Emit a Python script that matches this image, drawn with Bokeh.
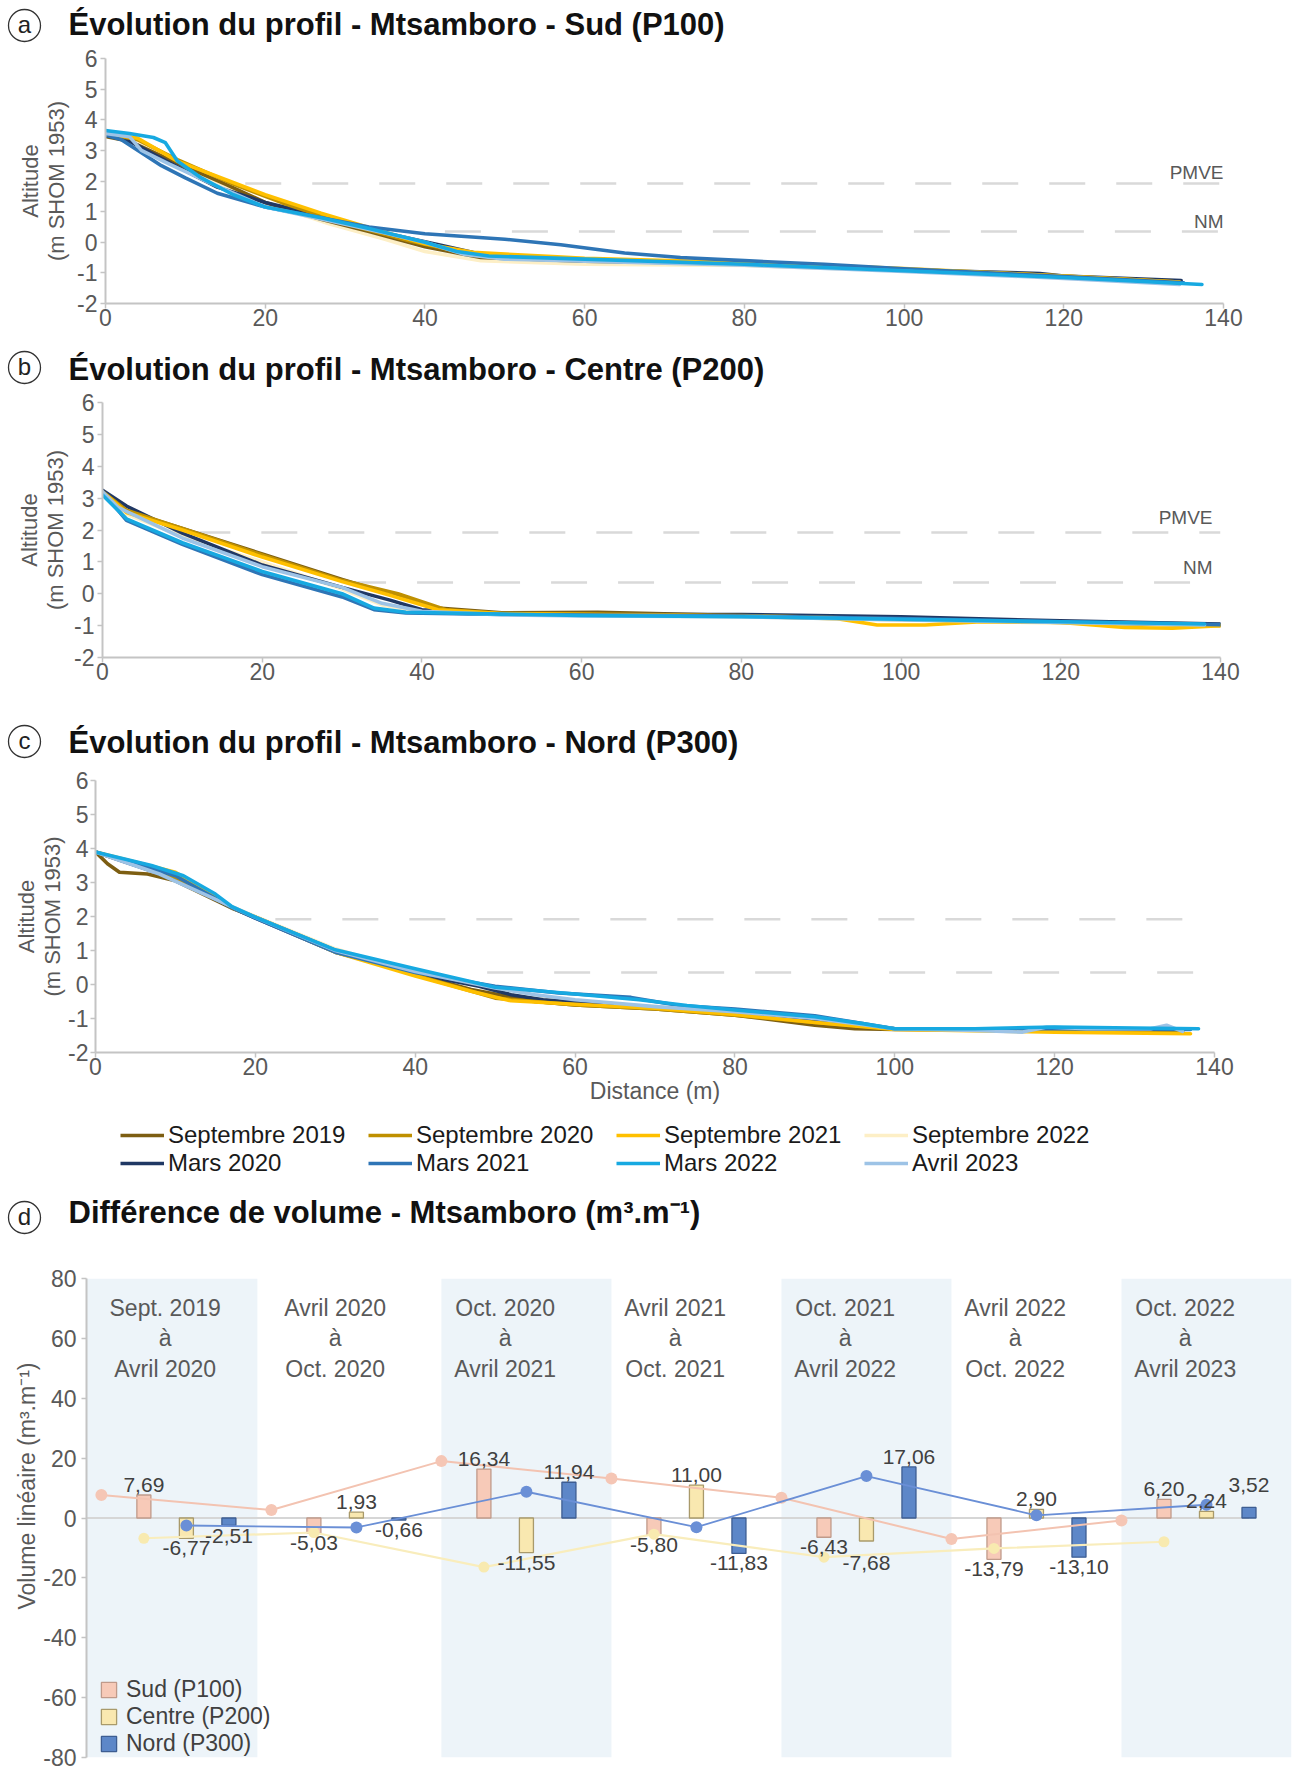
import numpy as np
from bokeh.plotting import figure
from bokeh.models import Range1d, FixedTicker, Legend, LegendItem, PrintfTickFormatter, Plot
from bokeh.layouts import column
from bokeh.embed import file_html
from bokeh.resources import INLINE
from bokeh.core.properties import value

FONT = "Liberation Sans"
GRAY = "#595959"
AXIS = "#c4c4c4"
W = 1308

# ------------------------------------------------------------------ data
date_labels = ["Septembre 2019", "Septembre 2020", "Septembre 2021", "Septembre 2022",
               "Mars 2020", "Mars 2021", "Mars 2022", "Avril 2023"]
date_colors = ["#7d5e12", "#bf9000", "#ffc000", "#fdefc6",
               "#203864", "#2e75b6", "#17a9e1", "#9dc3e6"]

# Panel a - Sud (P100): [distance (m), altitude (m SHOM 1953)]
sud_sep2019 = [[0, 3.45], [3, 3.3], [8, 2.7], [15, 1.9], [20, 1.3], [27, 0.75], [33, 0.35], [40, -0.15],
               [47, -0.5], [60, -0.62], [80, -0.7], [100, -0.9], [120, -1.12], [134.5, -1.3]]
sud_sep2020 = [[0, 3.55], [4, 3.35], [9, 2.7], [16, 1.9], [22, 1.3], [30, 0.6], [38, 0.05], [45, -0.35],
               [50, -0.5], [60, -0.58], [80, -0.68], [100, -0.88], [120, -1.1], [134.5, -1.3]]
sud_sep2021 = [[0, 3.55], [4, 3.4], [9, 2.65], [15, 2.05], [20, 1.55], [27, 0.95], [34, 0.4], [40, -0.05],
               [46, -0.33], [60, -0.52], [80, -0.66], [100, -0.86], [120, -1.1], [134.5, -1.3]]
sud_sep2022 = [[0, 3.5], [4, 3.35], [9, 2.55], [15, 1.85], [20, 1.3], [28, 0.6], [35, 0.1], [40, -0.3],
               [47, -0.6], [60, -0.72], [80, -0.76], [100, -0.93], [120, -1.15], [134.5, -1.35]]
sud_mar2020 = [[0, 3.5], [3, 3.3], [8, 2.6], [14, 1.8], [20, 1.3], [28, 0.8], [35, 0.3], [42, -0.1],
               [48, -0.45], [60, -0.6], [80, -0.7], [100, -0.9], [117, -1.02], [120, -1.1], [134.7, -1.25]]
sud_mar2021 = [[0, 3.5], [2, 3.35], [7, 2.5], [10, 2.1], [14, 1.6], [20, 1.15], [27, 0.8], [33, 0.5],
               [40, 0.28], [50, 0.1], [57, -0.08], [65, -0.35], [72, -0.5], [80, -0.6], [90, -0.72],
               [100, -0.87], [120, -1.12], [135, -1.32]]
sud_mar2022 = [[0, 3.65], [3, 3.55], [6, 3.42], [7.5, 3.25], [9, 2.65], [12, 2.1], [16, 1.55], [20, 1.15],
               [27, 0.8], [33, 0.45], [40, 0.0], [44, -0.3], [48, -0.45], [60, -0.55], [80, -0.72],
               [100, -0.93], [120, -1.15], [137.3, -1.38]]
sud_avr2023 = [[0, 3.55], [3, 3.45], [4.5, 3.0], [8, 2.55], [13, 1.95], [20, 1.15], [28, 0.7], [35, 0.3],
               [40, 0.0], [45, -0.4], [50, -0.55], [60, -0.62], [80, -0.75], [100, -0.95], [120, -1.18],
               [134.5, -1.38]]

# Panel b - Centre (P200)
centre_sep2019 = [[0, 3.2], [3, 2.6], [10, 2.05], [20, 1.25], [30, 0.45], [36, 0.0], [42, -0.45], [50, -0.6],
                  [62, -0.58], [80, -0.68], [100, -0.78], [120, -0.88], [140, -0.98]]
centre_sep2020 = [[0, 3.2], [3, 2.62], [10, 2.05], [20, 1.22], [30, 0.42], [37, 0.0], [43, -0.5], [50, -0.62],
                  [60, -0.63], [80, -0.68], [100, -0.8], [120, -0.9], [140, -1.0]]
centre_sep2021 = [[0, 3.2], [3, 2.55], [10, 2.0], [20, 1.15], [30, 0.38], [36, -0.05], [42, -0.5], [50, -0.62],
                  [60, -0.65], [80, -0.7], [92, -0.78], [97, -0.98], [103, -0.98], [110, -0.88], [120, -0.9],
                  [128, -1.06], [134, -1.08], [140, -1.0]]
centre_sep2022 = [[0, 3.15], [3, 2.5], [10, 1.8], [20, 1.0], [30, 0.15], [35, -0.35], [40, -0.58], [50, -0.65],
                  [60, -0.66], [80, -0.72], [100, -0.82], [120, -0.9], [138, -0.97]]
centre_mar2020 = [[0, 3.25], [3, 2.75], [10, 1.9], [20, 0.9], [30, 0.2], [36, -0.2], [40, -0.5], [50, -0.62],
                  [60, -0.65], [80, -0.65], [100, -0.72], [120, -0.85], [140, -0.95]]
centre_mar2021 = [[0, 3.2], [3, 2.3], [10, 1.55], [20, 0.6], [30, -0.1], [34, -0.5], [38, -0.6], [50, -0.65],
                  [60, -0.67], [80, -0.7], [100, -0.78], [120, -0.88], [140, -0.97]]
centre_mar2022 = [[0, 3.1], [3, 2.35], [10, 1.6], [20, 0.7], [30, 0.0], [34, -0.45], [38, -0.58], [50, -0.64],
                  [60, -0.68], [80, -0.72], [100, -0.8], [120, -0.88], [138, -0.95]]
centre_avr2023 = [[0, 3.2], [2, 2.7], [10, 1.75], [20, 0.85], [30, 0.2], [35, -0.3], [40, -0.55], [50, -0.66],
                  [60, -0.7], [80, -0.72], [100, -0.82], [120, -0.9], [138, -0.98]]

# Panel c - Nord (P300)
nord_sep2019 = [[0, 3.9], [1.5, 3.55], [3, 3.3], [6.5, 3.25], [10, 3.05], [17, 2.25], [20, 1.98], [30, 1.0],
                [40, 0.3], [47, -0.15], [55, -0.5], [60, -0.6], [70, -0.72], [80, -0.9], [90, -1.2], [95, -1.3],
                [100, -1.32], [120, -1.35], [136, -1.4]]
nord_sep2020 = [[0, 3.9], [10, 3.15], [17, 2.27], [20, 1.98], [30, 1.0], [40, 0.28], [50, -0.4], [60, -0.6],
                [70, -0.72], [80, -0.9], [90, -1.12], [100, -1.3], [120, -1.35], [136, -1.42]]
nord_sep2021 = [[0, 3.9], [10, 3.3], [17, 2.27], [20, 1.98], [30, 0.95], [40, 0.25], [47, -0.2], [52, -0.48],
                [60, -0.58], [70, -0.7], [80, -0.88], [90, -1.12], [100, -1.32], [120, -1.4], [137, -1.45]]
nord_sep2022 = [[0, 3.9], [10, 3.2], [17, 2.3], [20, 2.0], [30, 1.05], [40, 0.35], [48, -0.05], [52, -0.35],
                [60, -0.5], [70, -0.65], [80, -0.85], [90, -1.05], [100, -1.3], [120, -1.38], [136, -1.42]]
nord_mar2020 = [[0, 3.9], [10, 3.1], [17, 2.27], [20, 1.95], [30, 0.95], [40, 0.32], [48, -0.05], [52, -0.3],
                [56, -0.45], [65, -0.6], [75, -0.75], [85, -0.9], [95, -1.15], [100, -1.3], [120, -1.32],
                [136, -1.38]]
nord_mar2021 = [[0, 3.9], [10, 3.2], [17, 2.27], [20, 1.95], [30, 0.95], [40, 0.35], [50, -0.05], [58, -0.25],
                [67, -0.38], [73, -0.62], [80, -0.72], [90, -0.92], [96, -1.15], [100, -1.3], [120, -1.3],
                [137, -1.32]]
nord_mar2022 = [[0, 3.9], [7, 3.5], [11, 3.2], [15, 2.66], [17, 2.3], [20, 1.98], [30, 1.02], [40, 0.46],
                [50, -0.08], [60, -0.28], [68, -0.45], [74, -0.62], [80, -0.75], [90, -0.95], [96, -1.15],
                [100, -1.3], [110, -1.3], [120, -1.25], [130, -1.28], [138, -1.3]]
nord_avr2023 = [[0, 3.9], [8, 3.25], [16, 2.4], [20, 1.98], [30, 1.0], [40, 0.38], [50, -0.1], [55, -0.3],
                [60, -0.45], [70, -0.65], [80, -0.8], [90, -1.0], [100, -1.3], [110, -1.35], [116, -1.4],
                [119, -1.25], [124, -1.3], [132, -1.3], [134, -1.2], [136, -1.38]]

# tide levels (m SHOM 1953) and the distance span where each dashed line is drawn
pmve_level = 1.92
nm_level = 0.35
sud_levels_span = [[17.5, 139.5], [42.5, 139.5]]
centre_levels_span = [[11.5, 140], [31, 140]]
nord_levels_span = [[22.5, 138.5], [49, 138.5]]

x_ticks = [0, 20, 40, 60, 80, 100, 120, 140]
alt_ticks = [-2, -1, 0, 1, 2, 3, 4, 5, 6]

# Panel d - volume differences (m3/m)
periods = ["Sept. 2019\nà\nAvril 2020", "Avril 2020\nà\nOct. 2020", "Oct. 2020\nà\nAvril 2021",
           "Avril 2021\nà\nOct. 2021", "Oct. 2021\nà\nAvril 2022", "Avril 2022\nà\nOct. 2022",
           "Oct. 2022\nà\nAvril 2023"]
sud_p100 = [7.69, -5.03, 16.34, -5.80, -6.43, -13.79, 6.20]
centre_p200 = [-6.77, 1.93, -11.55, 11.00, -7.68, 2.90, 2.24]
nord_p300 = [-2.51, -0.66, 11.94, -11.83, 17.06, -13.10, 3.52]
vol_ticks = [-80, -60, -40, -20, 0, 20, 40, 60, 80]

HAS_FRAME_ALIGN = "frame_align" in Plot.properties()


# ------------------------------------------------------------------ helpers
def base_fig(height, **kw):
    p = figure(width=W, height=height, output_backend="svg", toolbar_location=None,
               background_fill_color="white", border_fill_color="white", **kw)
    p.outline_line_color = None
    if HAS_FRAME_ALIGN:
        p.frame_align = False
    return p


def style_axes(p, label_standoff, tick_standoff=3):
    for ax in p.axis:
        ax.axis_line_color = AXIS
        ax.axis_line_width = 2
        ax.major_tick_line_color = AXIS
        ax.major_tick_line_width = 1.5
        ax.major_tick_out = 5
        ax.major_tick_in = 0
        ax.minor_tick_line_color = None
        ax.major_label_text_font = FONT
        ax.major_label_text_font_size = "23px"
        ax.major_label_text_color = GRAY
        ax.axis_label_text_font = FONT
        ax.axis_label_text_font_style = "normal"
        ax.axis_label_text_color = GRAY
        ax.formatter = PrintfTickFormatter(format="%d")
    for ax in p.yaxis:
        ax.major_label_standoff = tick_standoff
        ax.axis_label_standoff = label_standoff
    for ax in p.xaxis:
        ax.major_label_standoff = 0
        ax.axis_label_standoff = 0
    p.xgrid.visible = False
    p.ygrid.visible = False


def header(height, letter, text, mid_y, circ_y, text_x=68, circ_x=24):
    h = base_fig(height, x_range=Range1d(0, W), y_range=Range1d(0, height),
                 x_axis_location=None, y_axis_location=None, min_border=0)
    h.grid.visible = False
    h.text(x=[text_x], y=[mid_y], text=[text], text_align="left", text_baseline="middle",
           text_font=value(FONT), text_font_size="31px", text_font_style="bold", text_color="#111111")
    h.scatter(x=[circ_x], y=[circ_y], marker="circle", size=32, fill_color=None,
              line_color="#333333", line_width=1.3)
    h.text(x=[circ_x], y=[circ_y + 1], text=[letter], text_align="center", text_baseline="middle",
           text_font=value(FONT), text_font_size="24px", text_color="#222222")
    return h


def profile_figure(height, top, bottom, left, right, series, spans, ylab_standoff, tick_standoff=3):
    p = base_fig(height, x_range=Range1d(0, 140), y_range=Range1d(-2, 6),
                 min_border_top=top, min_border_bottom=bottom, min_border_left=left, min_border_right=right)
    p.xaxis.ticker = FixedTicker(ticks=x_ticks)
    p.yaxis.ticker = FixedTicker(ticks=alt_ticks)
    p.yaxis.axis_label = "Altitude\n(m SHOM 1953)"
    p.yaxis.axis_label_text_font_size = "22px"
    p.yaxis.axis_label_text_line_height = 1.05
    style_axes(p, ylab_standoff, tick_standoff)
    for lvl, (x0, x1) in zip([pmve_level, nm_level], spans):
        p.line([x0, x1], [lvl, lvl], line_color="#d9d9d9", line_width=2.5, line_dash="36 31")
    order = [3, 0, 4, 1, 2, 5, 7, 6]
    for i in order:
        pts = np.array(series[i])
        p.line(pts[:, 0], pts[:, 1], line_color=date_colors[i], line_width=3.6,
               line_join="round", line_cap="round")
    return p


# ------------------------------------------------------------------ panel a
ha = header(44, "a", "Évolution du profil - Mtsamboro - Sud (P100)", 20, 19)
pa = profile_figure(296, 14, 37, 105, 85,
                    [sud_sep2019, sud_sep2020, sud_sep2021, sud_sep2022,
                     sud_mar2020, sud_mar2021, sud_mar2022, sud_avr2023],
                    sud_levels_span, 5)
pa.text(x=[140, 140], y=[2.27, 0.67], text=["PMVE", "NM"], text_align="right", text_baseline="middle",
        text_font=value(FONT), text_font_size="19px", text_color=GRAY)

# ------------------------------------------------------------------ panel b
hb = header(48, "b", "Évolution du profil - Mtsamboro - Centre (P200)", 19, 21)
pb = profile_figure(312, 14, 43, 102, 88,
                    [centre_sep2019, centre_sep2020, centre_sep2021, centre_sep2022,
                     centre_mar2020, centre_mar2021, centre_mar2022, centre_avr2023],
                    centre_levels_span, 3)
pb.text(x=[139, 139], y=[2.4, 0.83], text=["PMVE", "NM"], text_align="right", text_baseline="middle",
        text_font=value(FONT), text_font_size="19px", text_color=GRAY)

# ------------------------------------------------------------------ panel c
hc = header(66, "c", "Évolution du profil - Mtsamboro - Nord (P300)", 24, 25)
pc = profile_figure(346, 14, 60, 95, 94,
                    [nord_sep2019, nord_sep2020, nord_sep2021, nord_sep2022,
                     nord_mar2020, nord_mar2021, nord_mar2022, nord_avr2023],
                    nord_levels_span, 0, 2)
pc.xaxis.axis_label = "Distance (m)"
pc.xaxis.axis_label_text_font_size = "23px"

# ------------------------------------------------------------------ legend of the profiles
pl = base_fig(73, x_range=Range1d(0, 1), y_range=Range1d(0, 1),
              x_axis_location=None, y_axis_location=None, min_border=0)
pl.grid.visible = False
# legend-only renderers: their single segment lies outside the visible range
leg_r = [pl.line(x=[0, 1], y=[-9, -9], line_color=c, line_width=3.6) for c in date_colors]
leg_kwargs = dict(orientation="horizontal", location=(120, 8), margin=0, padding=0, spacing=0,
                  glyph_width=44, glyph_height=20, label_width=200, label_height=20, label_standoff=4,
                  label_text_font=FONT, label_text_font_size="24px", label_text_color="#1a1a1a",
                  border_line_color=None, background_fill_alpha=0)
if "ncols" in Legend.properties():
    leg_kwargs["ncols"] = 4
pl.add_layout(Legend(items=[LegendItem(label=date_labels[i], renderers=[leg_r[i]]) for i in range(8)],
                     **leg_kwargs))

# ------------------------------------------------------------------ panel d
hd = header(60, "d", "Différence de volume - Mtsamboro (m³.m⁻¹)", 33, 28)
x_start, x_end = -0.35, 28.0
D_TOP, D_FRAME, D_BOTTOM = 33, 479, 13
pd_ = base_fig(D_TOP + D_FRAME + D_BOTTOM, x_range=Range1d(x_start, x_end), y_range=Range1d(-80, 80),
               x_axis_location=None, min_border_top=D_TOP, min_border_bottom=D_BOTTOM,
               min_border_left=86, min_border_right=17)
pd_.yaxis.ticker = FixedTicker(ticks=vol_ticks)
pd_.yaxis.axis_label = "\u00a0" * 10 + "Volume linéaire (m³.m⁻¹)"
pd_.yaxis.axis_label_text_font_size = "23px"
style_axes(pd_, 0, 5)

k = np.arange(len(periods))
base = 4.0 * k
band_k = k[::2]
band_left = 4.0 * band_k
band_left[0] = x_start
band_right = 4.0 * band_k + 4.0
band_right[0] = 3.67
pd_.quad(left=band_left, right=band_right, bottom=-80, top=80, fill_color="#edf4f9", line_color=None)

pd_.text(x=base + 1.5, y=[60] * len(periods), text=periods, text_align="center", text_baseline="middle",
         text_font=value(FONT), text_font_size="23px", text_color=GRAY, text_line_height=1.17)

pd_.line([x_start, 27.0], [0, 0], line_color="#d6d6d6", line_width=2)

bar_w = 0.33
r_sud = pd_.vbar(x=base + 1, top=sud_p100, bottom=0, width=bar_w, fill_color="#f7cab8",
                 line_color="#c09a8a", line_width=1.3)
r_cen = pd_.vbar(x=base + 2, top=centre_p200, bottom=0, width=bar_w, fill_color="#f9e8b0",
                 line_color="#a99a6b", line_width=1.3)
r_nor = pd_.vbar(x=base + 3, top=nord_p300, bottom=0, width=bar_w, fill_color="#5d87c8",
                 line_color="#3d5d92", line_width=1.3)

# cumulative evolution of each profile
cum_sud = np.cumsum(sud_p100)
cum_cen = np.cumsum(centre_p200)
cum_nor = np.cumsum(nord_p300)
pd_.line(base + 0, cum_sud, line_color="#f3c3b1", line_width=2)
pd_.scatter(base + 0, cum_sud, size=12, fill_color="#f5c6b5", line_color=None)
pd_.line(base + 1, cum_cen, line_color="#f9edbc", line_width=2.2)
pd_.scatter(base + 1, cum_cen, size=11, fill_color="#f8eab0", line_color=None)
pd_.line(base + 2, cum_nor, line_color="#6a8fd6", line_width=1.8)
pd_.scatter(base + 2, cum_nor, size=12, fill_color="#6a8fd6", line_color=None)


def fmt(v):
    return f"{v:.2f}".replace(".", ",")


# value labels, slightly shifted when two neighbouring labels would collide
px_per_unit = D_FRAME / 160.0
entries = []
for vals, off in ((sud_p100, 1), (centre_p200, 2), (nord_p300, 3)):
    for i, v in enumerate(vals):
        entries.append((base[i] + off, v))
entries.sort()
lab_x, lab_y, lab_t, lab_off, lab_pos = [], [], [], [], []
for j, (xv, v) in enumerate(entries):
    nudge = 0
    if j > 0:
        px, pv = entries[j - 1]
        if abs(px - (xv - 1)) < 1e-9 and (pv >= 0) == (v >= 0) and abs(pv - v) * px_per_unit < 10:
            nudge = 12
    lab_x.append(xv)
    lab_y.append(v)
    lab_t.append(fmt(v))
    lab_off.append(3 + nudge)
    lab_pos.append(v >= 0)
for positive in (True, False):
    idx = [i for i in range(len(lab_x)) if lab_pos[i] == positive]
    pd_.text(x=[lab_x[i] for i in idx], y=[lab_y[i] for i in idx], text=[lab_t[i] for i in idx],
             y_offset=[(-lab_off[i] if positive else lab_off[i]) for i in idx],
             text_align="center", text_baseline=("bottom" if positive else "top"),
             text_font=value(FONT), text_font_size="21px", text_color="#404040")

legd = Legend(items=[LegendItem(label="Sud (P100)", renderers=[r_sud]),
                     LegendItem(label="Centre (P200)", renderers=[r_cen]),
                     LegendItem(label="Nord (P300)", renderers=[r_nor])],
              location=(13, 0), orientation="vertical", padding=0, margin=0, spacing=0,
              glyph_width=19, glyph_height=19, label_standoff=8, label_height=20,
              label_text_font=FONT, label_text_font_size="23px", label_text_color="#404040",
              border_line_color=None, background_fill_alpha=0)
pd_.add_layout(legd)

layout = column(ha, pa, hb, pb, hc, pc, pl, hd, pd_, spacing=0)
open("out.html", "w").write(file_html(layout, INLINE, title="Mtsamboro"))
